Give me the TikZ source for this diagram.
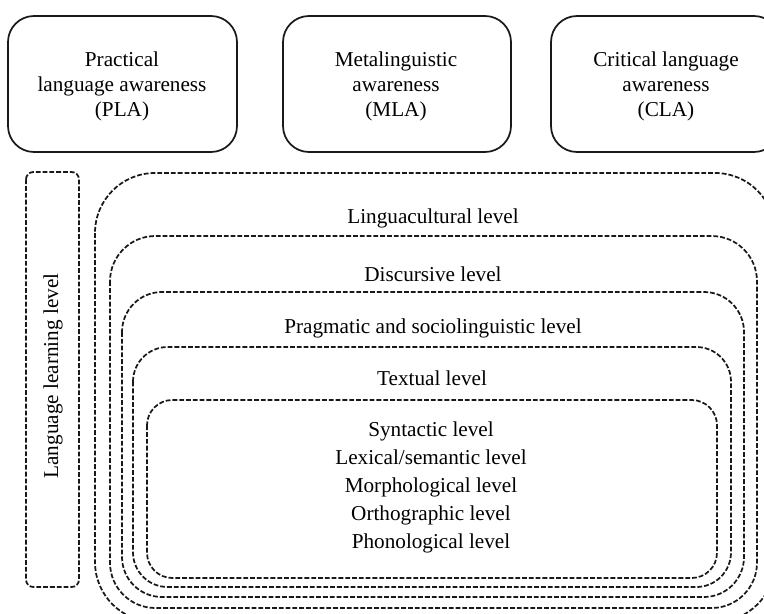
\documentclass[tikz,border=0pt]{standalone}
\usepackage{fontspec}
\setmainfont{Liberation Serif}
\begin{document}
\begin{tikzpicture}[x=0.75pt,y=-0.75pt,
  txt/.style={font=\fontsize{15.9}{18.75}\selectfont, inner sep=0pt, text=black, align=center},
  listtxt/.style={font=\fontsize{15.9}{21}\selectfont, inner sep=0pt, text=black, align=center},
  topbox/.style={draw=black!90, line width=1.3pt, rounded corners=19.5pt, inner sep=0pt, minimum height=102pt},
  dashbox/.style={draw=black!90, line width=1.3pt, dash pattern=on 3.6pt off 1.5pt}]
\useasboundingbox (0,0) rectangle (764,614);
\clip (0,0) rectangle (764,614);
% top boxes
\node[topbox, minimum width=171.75pt] (pla) at (122.5,84) {};
\node[topbox, minimum width=171pt] (mla) at (397,84) {};
\node[topbox, minimum width=171.75pt] (cla) at (665.5,84) {};
\node[txt] (plat) at (122,86) {Practical\\language awareness\\(PLA)};
\node[txt] (mlat) at (396,86) {Metalinguistic\\awareness\\(MLA)};
\node[txt] (clat) at (666,86) {Critical language\\awareness\\(CLA)};
% language learning level box
\draw[dashbox, rounded corners=5.5pt] (26,172) rectangle (79,587);
\node[txt, rotate=90] (llt) at (53,376) {Language learning level};
% nested levels
\draw[dashbox, rounded corners=45pt] (95,173) rectangle (775,622);
\draw[dashbox, rounded corners=34pt] (110,236) rectangle (757,608);
\draw[dashbox, rounded corners=30pt] (122,292) rectangle (744,597);
\draw[dashbox, rounded corners=26pt] (133,347) rectangle (731,587);
\draw[dashbox, rounded corners=19pt] (147,400) rectangle (717,578);
\node[txt, anchor=base] (l1) at (433,223) {Linguacultural level};
\node[txt, anchor=base] (l2) at (433,281) {Discursive level};
\node[txt, anchor=base] (l3) at (433,333) {Pragmatic and sociolinguistic level};
\node[txt, anchor=base] (l4) at (432,385) {Textual level};
\node[listtxt] (l5) at (431,487) {Syntactic level\\Lexical/semantic level\\Morphological level\\Orthographic level\\Phonological level};
\end{tikzpicture}
\end{document}
